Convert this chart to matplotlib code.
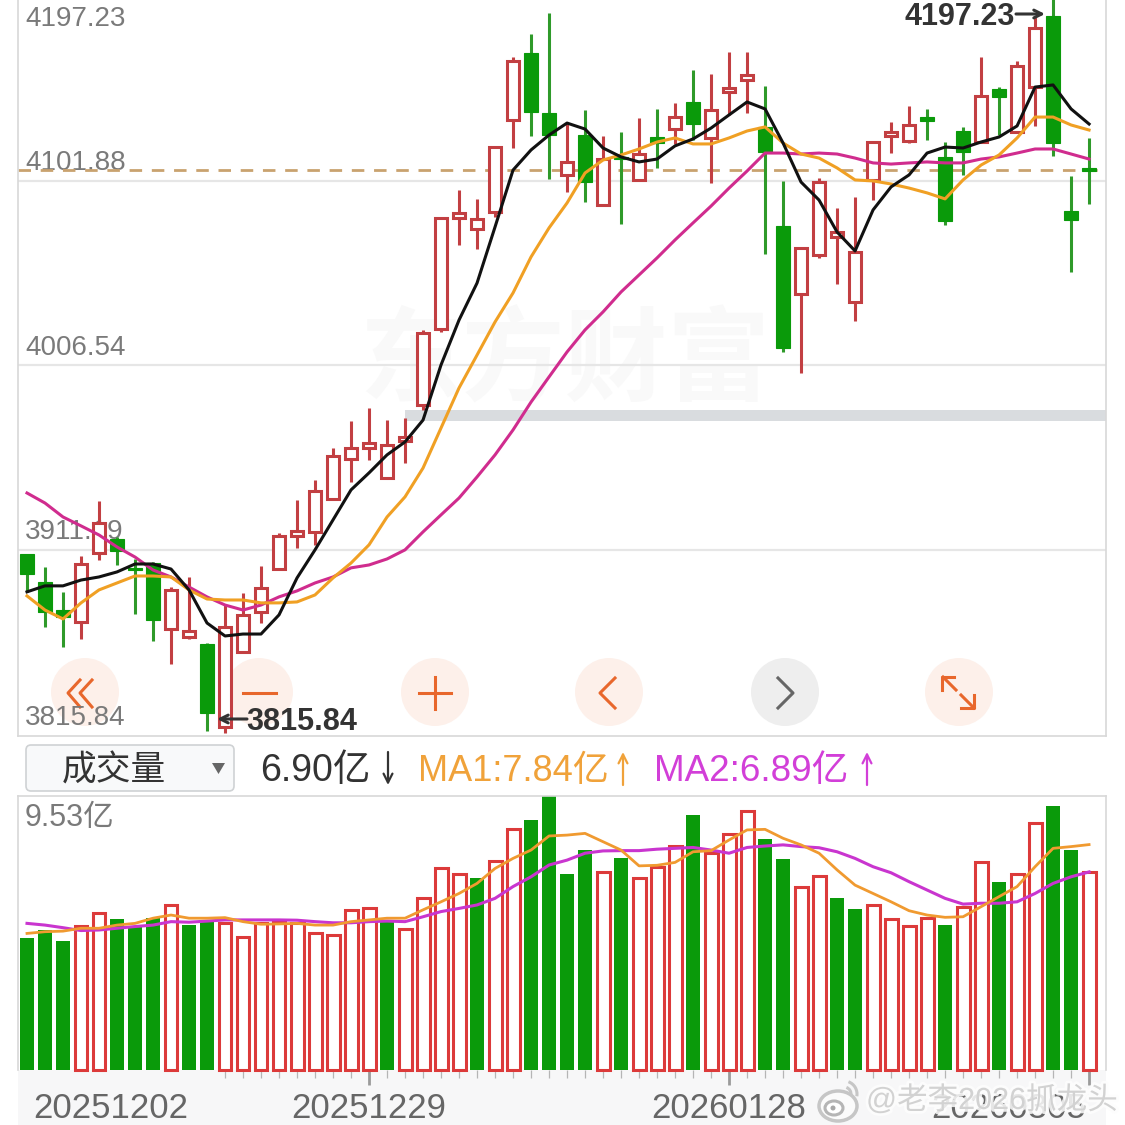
import matplotlib
matplotlib.use('Agg')
import matplotlib.pyplot as plt
from matplotlib.patches import Circle, Ellipse, FancyBboxPatch, Rectangle, Polygon, Arc
import matplotlib.patheffects as pe
import numpy as np

plt.rcParams['font.family'] = ['Liberation Sans', 'Noto Sans CJK SC', 'DejaVu Sans']

# K线数据
opens = [3909.1, 3894.6, 3880.1, 3873.9, 3909.6, 3916.8, 3901.9, 3904.4, 3870.3, 3866.2,
         3862.6, 3819.7, 3858.4, 3879.1, 3901.3, 3918.4, 3920.5, 3937.5, 3958.2, 3963.9,
         3948.4, 3967.5, 3986.1, 4025.4, 4082.7, 4077.1, 4085.8, 4133.4, 4168.0, 4137.0,
         4105.0, 4125.6, 4089.5, 4114.3, 4102.4, 4124.6, 4128.7, 4142.7, 4124.1, 4147.8,
         4154.1, 4129.8, 4078.6, 4043.5, 4063.6, 4072.9, 4039.3, 4102.4, 4125.1, 4122.5,
         4134.9, 4114.3, 4127.7, 4122.0, 4149.4, 4127.2, 4150.4, 4187.1, 4086.4, 4108.6]
closes = [3898.8, 3879.1, 3876.5, 3903.9, 3925.1, 3910.6, 3900.8, 3875.0, 3890.5, 3869.3,
          3826.9, 3871.4, 3877.6, 3891.5, 3918.4, 3921.0, 3941.6, 3959.7, 3963.9, 3966.5,
          3965.4, 3969.6, 4023.3, 4082.7, 4085.3, 4082.2, 4119.4, 4163.9, 4137.5, 4125.6,
          4111.7, 4101.3, 4113.2, 4113.2, 4115.8, 4121.5, 4134.9, 4131.3, 4138.6, 4149.9,
          4156.6, 4116.8, 4015.6, 4067.2, 4101.3, 4075.5, 4065.2, 4122.0, 4127.2, 4130.8,
          4132.9, 4081.2, 4116.8, 4145.8, 4145.3, 4161.3, 4180.9, 4121.5, 4081.7, 4107.0]
highs = [3909.1, 3902.4, 3889.5, 3908.1, 3936.5, 3917.9, 3906.5, 3905.0, 3892.0, 3897.2,
         3863.1, 3882.7, 3888.9, 3902.9, 3920.0, 3937.0, 3947.3, 3963.9, 3977.8, 3984.5,
         3978.3, 3979.4, 4024.9, 4083.3, 4097.2, 4092.6, 4119.9, 4166.0, 4177.8, 4188.7,
         4131.8, 4138.6, 4125.1, 4127.2, 4134.4, 4139.1, 4142.2, 4159.2, 4157.2, 4168.5,
         4168.5, 4150.9, 4101.9, 4067.7, 4103.4, 4087.9, 4093.6, 4122.0, 4132.3, 4140.6,
         4139.1, 4122.0, 4129.8, 4166.0, 4150.4, 4163.9, 4186.6, 4197.2, 4104.4, 4124.1]
lows = [3889.5, 3871.4, 3861.0, 3865.2, 3906.0, 3903.4, 3878.1, 3864.1, 3852.2, 3865.2,
        3817.6, 3816.6, 3858.4, 3873.4, 3901.3, 3912.2, 3913.7, 3937.0, 3946.3, 3957.7,
        3948.4, 3956.1, 3983.5, 4023.8, 4068.8, 4066.7, 4083.3, 4118.9, 4125.1, 4102.9,
        4096.2, 4091.0, 4089.5, 4079.6, 4102.4, 4108.6, 4121.0, 4123.0, 4100.8, 4136.0,
        4137.0, 4064.1, 4013.5, 4002.6, 4062.1, 4048.6, 4029.5, 4092.0, 4116.3, 4121.5,
        4123.0, 4079.1, 4105.0, 4122.0, 4125.6, 4127.2, 4130.3, 4114.8, 4054.8, 4090.0]

ma_black = [3889.5, 3892.6, 3892.6, 3895.6, 3897.2, 3899.8, 3903.9, 3903.9, 3901.3, 3890.5,
            3873.4, 3866.7, 3867.7, 3867.7, 3877.6, 3896.7, 3911.2, 3926.7, 3942.2, 3951.0,
            3960.3, 3967.0, 3978.3, 4006.8, 4030.0, 4049.1, 4078.1, 4107.5, 4117.9, 4125.6,
            4131.8, 4128.7, 4118.9, 4114.3, 4111.7, 4113.2, 4120.0, 4123.6, 4129.2, 4136.0,
            4142.7, 4139.1, 4121.5, 4101.3, 4092.0, 4075.5, 4065.7, 4086.9, 4098.8, 4105.0,
            4116.3, 4119.4, 4118.9, 4122.0, 4124.6, 4130.3, 4150.4, 4151.5, 4139.1, 4131.3]
ma_orange = [3887.4, 3880.1, 3875.5, 3883.8, 3890.5, 3894.1, 3897.7, 3897.7, 3897.2, 3890.5,
             3885.8, 3885.3, 3885.3, 3883.8, 3883.8, 3884.3, 3887.9, 3896.7, 3904.4, 3913.8,
             3928.2, 3938.6, 3953.5, 3974.2, 3994.9, 4011.9, 4029.0, 4044.0, 4062.6, 4077.6,
             4090.5, 4106.0, 4112.7, 4115.3, 4118.4, 4122.0, 4124.1, 4121.0, 4121.0, 4124.1,
             4127.7, 4129.8, 4121.5, 4115.8, 4113.7, 4108.6, 4102.4, 4101.9, 4100.3, 4098.2,
             4095.7, 4092.6, 4102.4, 4110.1, 4115.3, 4124.1, 4134.9, 4134.9, 4130.8, 4128.2]
ma_magenta = [3940.6, 3935.4, 3928.2, 3923.6, 3918.9, 3912.7, 3907.5, 3900.8, 3897.2, 3892.0,
              3886.9, 3882.7, 3880.1, 3882.7, 3886.9, 3890.0, 3894.1, 3897.2, 3901.9, 3903.4,
              3906.5, 3911.2, 3920.5, 3929.3, 3938.0, 3948.9, 3960.3, 3973.2, 3987.6, 4000.6,
              4013.5, 4024.9, 4034.2, 4044.5, 4053.3, 4062.1, 4071.4, 4080.2, 4088.9, 4098.2,
              4107.0, 4116.3, 4116.3, 4115.8, 4116.3, 4115.8, 4113.7, 4111.2, 4110.6, 4111.2,
              4111.7, 4111.2, 4111.2, 4113.2, 4114.3, 4116.3, 4118.4, 4118.4, 4115.8, 4113.2]

# 成交量(亿)
volumes = [4.58, 4.87, 4.49, 5.01, 5.47, 5.26, 4.99, 5.28, 5.74, 5.04,
           5.16, 5.12, 4.61, 5.12, 5.16, 5.12, 4.75, 4.70, 5.55, 5.62,
           5.22, 4.92, 5.97, 7.01, 6.82, 6.67, 7.28, 8.37, 8.70, 9.53,
           6.82, 7.65, 6.88, 7.36, 6.67, 7.07, 7.80, 8.87, 7.54, 8.21,
           9.02, 8.03, 7.34, 6.38, 6.75, 5.99, 5.59, 5.73, 5.25, 5.02,
           5.28, 5.04, 5.68, 7.22, 6.53, 6.82, 8.58, 9.19, 7.65, 6.90]
vol_colors = list('gggrrgggrgg' + 'rrrrrrrrr' + 'grrrrgrr' + 'ggggrgrrrgrrrggrrggrrrrgrrgrrggr')
vol_ma1 = [4.75, 4.81, 4.83, 4.93, 4.93, 5.04, 5.10, 5.28, 5.39, 5.28,
           5.28, 5.30, 5.16, 5.07, 5.08, 5.10, 5.04, 5.04, 5.16, 5.22,
           5.28, 5.28, 5.57, 5.85, 6.14, 6.49, 7.01, 7.36, 7.65, 8.14,
           8.17, 8.23, 7.94, 7.65, 7.10, 7.12, 7.22, 7.59, 7.63, 8.00,
           8.35, 8.37, 8.06, 7.83, 7.54, 6.96, 6.43, 6.14, 5.85, 5.54,
           5.39, 5.31, 5.33, 5.68, 6.03, 6.38, 7.07, 7.71, 7.77, 7.84]
vol_ma2 = [5.10, 5.04, 4.95, 4.85, 4.87, 4.93, 4.99, 5.04, 5.16, 5.14,
           5.18, 5.22, 5.22, 5.22, 5.22, 5.21, 5.16, 5.12, 5.12, 5.16,
           5.18, 5.16, 5.33, 5.51, 5.62, 5.74, 5.97, 6.38, 6.72, 7.13,
           7.30, 7.54, 7.62, 7.63, 7.63, 7.68, 7.71, 7.74, 7.65, 7.54,
           7.74, 7.79, 7.83, 7.77, 7.73, 7.59, 7.36, 7.07, 6.86, 6.55,
           6.26, 5.97, 5.77, 5.80, 5.80, 5.85, 6.14, 6.49, 6.72, 6.89]

price_ticks = [4197.23, 4101.88, 4006.54, 3911.19, 3815.84]
price_label_y = [19, 163, 348, 532, 718]
dates = ['20251202', '20251229', '20260128', '20260305']
date_x = [111, 369, 729, 1009]

SIZE = 1125
RED = '#c23f42'
GREEN = '#0a9a0a'
BTN = '#e8672c'
xs = np.arange(len(opens))

fig = plt.figure(figsize=(11.25, 11.25), dpi=100, facecolor='white')


def px_axes(left, top, right, bottom, z):
    a = fig.add_axes([left / SIZE, 1 - bottom / SIZE, (right - left) / SIZE, (bottom - top) / SIZE])
    a.set_zorder(z)
    a.patch.set_alpha(0)
    return a


def arrow(a, start, end, col, lw=1.6, head=16):
    a.annotate('', xy=end, xytext=start,
               arrowprops=dict(arrowstyle='->', color=col, lw=lw, mutation_scale=head,
                               shrinkA=0, shrinkB=0))


# 背景层(像素坐标)
bg = px_axes(0, 0, SIZE, SIZE, 0)
bg.set_xlim(0, SIZE)
bg.set_ylim(SIZE, 0)
bg.axis('off')

bg.add_patch(Rectangle((18, 1070), 1088, 55, fc='#f7f7f8', ec='none'))
bg.text(565, 366, '东方财富', fontsize=74, fontweight='bold', color='#f9f9f9', ha='center', va='center')

for cx, col in zip([85, 259, 435, 609, 785, 959], ['#fdf0ea'] * 4 + ['#eeeeee', '#fdf0ea']):
    bg.add_patch(Circle((cx, 692), 34, fc=col, ec='none'))
# ボタンのアイコン
for dx in [0, 12]:
    bg.plot([80 + dx, 68 + dx, 80 + dx], [680, 693, 707], color=BTN, lw=2.2)
bg.plot([243, 276], [693, 693], color=BTN, lw=2.2)
bg.plot([419, 451], [693, 693], color=BTN, lw=2.2)
bg.plot([435, 435], [677, 709], color=BTN, lw=2.2)
bg.plot([615, 600, 615], [678, 693, 708], color=BTN, lw=2.2)
bg.plot([778, 793, 778], [678, 693, 708], color='#666666', lw=2.2)
# 全屏图标
bg.plot([943, 956], [677, 690], color=BTN, lw=2.2)
bg.plot([942, 942, 954], [690, 677, 677], color=BTN, lw=2.2)
bg.plot([961, 974], [695, 708], color=BTN, lw=2.2)
bg.plot([961, 974, 974], [708, 708, 695], color=BTN, lw=2.2)

for lab, y in zip(price_ticks, price_label_y):
    bg.text(25, y, '%.2f' % lab, fontsize=20, color='#7a7a7a', ha='left', va='center')

# 成交量ヘッダー
bg.add_patch(FancyBboxPatch((26, 745), 208, 46, boxstyle='round,pad=0,rounding_size=5',
                            fc='#f8f9fa', ec='#cfd2d4', lw=1.2))
bg.text(114, 771, '成交量', fontsize=25, color='#333333', ha='center', va='center')
bg.add_patch(Polygon([[212, 763], [225, 763], [218.5, 774]], fc='#666666', ec='none'))
bg.text(260, 771, '6.90亿', fontsize=27, color='#333333', ha='left', va='center')
arrow(bg, (388, 752), (388, 785), '#333333')
bg.text(418, 771, 'MA1:7.84亿', fontsize=26, color='#f0a23a', ha='left', va='center')
arrow(bg, (623, 785), (623, 752), '#f0a23a')
bg.text(654, 771, 'MA2:6.89亿', fontsize=26.5, color='#d23fd8', ha='left', va='center')
arrow(bg, (867, 785), (867, 752), '#d23fd8')
bg.text(25, 818, '9.53亿', fontsize=22, color='#7a7a7a', ha='left', va='center')

for d, x in zip(dates, date_x):
    bg.text(x, 1108, d, fontsize=25, color='#666666', ha='center', va='center')

# K线图
ax = px_axes(18, 0, 1106, 736, 1)
ax.set_xlim(-0.5, 59.94)
ax.set_ylim(3815.0, 4195.4)
ax.set_xticks([])
ax.set_yticks([])
for s in ax.spines.values():
    s.set_color('#d8d8d8')
    s.set_linewidth(1.2)
ax.spines['top'].set_visible(False)

for g in price_ticks[1:4]:
    ax.axhline(g, color='#e6e6e6', lw=1.6, zorder=1)
ax.axhline(4107.5, color='#c9a26f', lw=2, dashes=(4.5, 3.5), zorder=1.5)
ax.add_patch(Rectangle((21.0, 3977.8), 39, 5.7, fc='#d9dcdf', ec='none', zorder=1.2))

for i in xs:
    up = closes[i] >= opens[i]
    col = RED if up else '#2f9a2a'
    ax.vlines(i, lows[i], highs[i], color=col, lw=2.2, zorder=2)
    top = max(opens[i], closes[i])
    bot = min(opens[i], closes[i])
    if up:
        ax.bar(i, top - bot, 0.7, bot, fc='white', ec=RED, lw=2.2, zorder=3)
    else:
        ax.bar(i, top - bot, 0.8, bot, fc=GREEN, ec=GREEN, lw=0.8, zorder=3)

ax.plot(xs, ma_magenta, color='#d02c8e', lw=2.2, zorder=4)
ax.plot(xs, ma_orange, color='#f0a024', lw=2.2, zorder=5)
ax.plot(xs, ma_black, color='#111111', lw=2.2, zorder=6)

# 成交量
axv = px_axes(18, 796, 1106, 1070, 1)
axv.set_xlim(-0.5, 59.94)
axv.set_ylim(0, 9.53)
axv.set_yticks([])
for s in axv.spines.values():
    s.set_color('#d8d8d8')
    s.set_linewidth(1.2)
axv.spines['bottom'].set_visible(False)

for i in xs:
    if vol_colors[i] == 'r':
        axv.bar(i, volumes[i], 0.72, fc='white', ec='#dc3a3a', lw=2.2, zorder=2, clip_on=False)
    else:
        axv.bar(i, volumes[i], 0.82, fc=GREEN, ec='none', zorder=2)
axv.plot(xs, vol_ma2, color='#c935cf', lw=2.2, zorder=3)
axv.plot(xs, vol_ma1, color='#f09a30', lw=2.0, zorder=4)

axv.set_xticks([19, 39, 59])
axv.set_xticklabels([])
axv.set_xticks(np.arange(11, 60), minor=True)
axv.tick_params(axis='x', which='major', length=11, width=2, color='#9a9a9a')
axv.tick_params(axis='x', which='minor', length=6, width=0.9, color='#b5b5b5')

# 前景(最高最低注記、微博水印)
fg = px_axes(0, 0, SIZE, SIZE, 5)
fg.set_xlim(0, SIZE)
fg.set_ylim(SIZE, 0)
fg.axis('off')
fg.text(246, 722, '3815.84', fontsize=22, fontweight='bold', color='#333333', ha='left', va='center')
arrow(fg, (247, 719), (217, 719), '#333333', lw=2.2, head=14)
fg.text(1015, 17, '4197.23', fontsize=22, fontweight='bold', color='#333333', ha='right', va='center')
arrow(fg, (1016, 14), (1045, 14), '#333333', lw=2.2, head=14)

halo = [pe.withStroke(linewidth=4, foreground='#fdfdfd', alpha=0.85)]
fg.text(866, 1101, '@老李2026抓龙头', fontsize=22, color='#d2d2d2', ha='left', va='center',
        path_effects=halo)
fg.add_patch(Ellipse((838, 1106), 38, 30, fc='#fbfbfb', ec='#c6c6c6', lw=2.5))
fg.add_patch(Ellipse((834, 1108), 18, 14, fc='white', ec='#b5b5b5', lw=2.2))
fg.add_patch(Circle((833, 1108), 2.5, fc='#a8a8a8', ec='none'))
fg.add_patch(Arc((844, 1094), 26, 26, theta1=-70, theta2=10, color='#c6c6c6', lw=2.2))
fg.add_patch(Arc((844, 1094), 14, 14, theta1=-70, theta2=10, color='#c6c6c6', lw=2.2))

fig.savefig('out.png', dpi=100)
